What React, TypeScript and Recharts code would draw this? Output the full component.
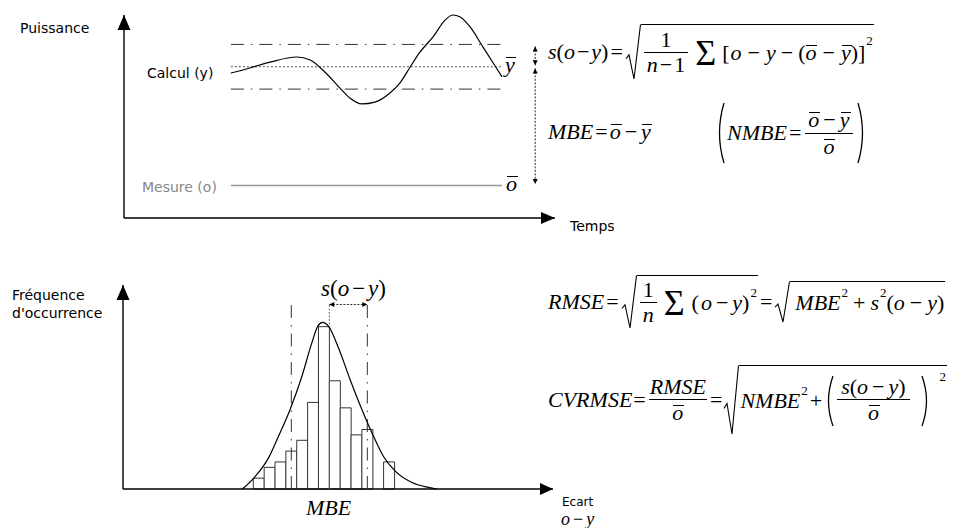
import React from "react";
import { ComposedChart, Line, Bar, XAxis, YAxis, ReferenceLine } from "recharts";

// top diagram: computed power (y) over time
const temps = [24.8, 29.2, 33.9, 40.1, 43.2, 46.6, 50.1, 52.4, 55.2, 58.2, 61.7, 64.0, 66.4, 68.7, 71.7, 74.5, 76.3, 78.0, 80.3, 83.3, 86.1, 87.7];
const calcul = [71.4, 73.9, 76.8, 79.3, 77.8, 71.9, 64.0, 59.1, 56.2, 57.1, 61.6, 66.5, 74.4, 81.8, 89.2, 97.5, 100, 99.0, 94.1, 84.2, 74.9, 69.5];
const yBar = 74.5;
const sTop = 11;
const oBar = 16;
const spanTemps = [24.8, 87.7];
const arrowTemps = 95.4;
const topMax = 100;

// bottom diagram: histogram of o - y
const bins = [12.5, 13.5, 14.5, 15.5, 16.5, 17.5, 18.5, 19.5, 20.5, 21.5, 22.5, 23.5, 24.5];
const freq = [2, 4, 5, 7, 9, 16, 30, 20, 15, 10, 11, 0, 5];
const curveEcart = [11.0, 12.17, 13.39, 14.31, 15.39, 16.47, 17.39, 17.94, 18.37, 18.92, 19.84, 20.92, 22.0, 22.92, 23.99, 25.07, 26.61, 28.14, 28.91];
const curveFreq = [0, 2.3, 5.7, 9.7, 14.7, 20.8, 27.0, 30.1, 30.8, 30.1, 26.1, 20.2, 14.7, 10.4, 6.0, 3.3, 1.2, 0.3, 0];
const mbe = 19;
const sBottom = 3.5;
const arrowFreq = 34.1;
const ecartMax = 39.6;
const freqMax = 37.7;

const topData = temps.map((t, i) => ({ t, calcul: calcul[i] }));
const histData = bins.map((ecart, i) => ({ ecart, freq: freq[i] }));
const curveData = curveEcart.map((ecart, i) => ({ ecart, density: curveFreq[i] }));

const sans = '"DejaVu Sans", Verdana, sans-serif';
const serif = '"Liberation Serif", "Times New Roman", serif';
const dashDot = "13 7 1.5 7";

function DoubleArrow(props: any) {
  const { x1, y1, x2, y2 } = props;
  const dx = x2 - x1;
  const dy = y2 - y1;
  const len = Math.hypot(dx, dy) || 1;
  const ux = dx / len;
  const uy = dy / len;
  const a = 5;
  const w = 2.5;
  const head = (x: number, y: number, vx: number, vy: number) =>
    `${x},${y} ${x - vx * a - vy * w},${y - vy * a + vx * w} ${x - vx * a + vy * w},${y - vy * a - vx * w}`;
  return (
    <g>
      <line x1={x1} y1={y1} x2={x2} y2={y2} stroke="#222" strokeDasharray="2 1.5" />
      <polygon points={head(x2, y2, ux, uy)} fill="#000" />
      <polygon points={head(x1, y1, -ux, -uy)} fill="#000" />
    </g>
  );
}

type Kids = { children?: React.ReactNode };
const I = ({ children }: Kids) => <span style={{ fontStyle: "italic" }}>{children}</span>;
const Ov = ({ children }: Kids) => (
  <span style={{ position: "relative", display: "inline-block", fontStyle: "italic", lineHeight: 1.15 }}>
    {children}
    <span style={{ position: "absolute", left: 1, right: -1, top: 5, borderTop: "1px solid #000" }} />
  </span>
);
const Op = ({ children, m = 2 }: Kids & { m?: number }) => <span style={{ margin: `0 ${m}px` }}>{children}</span>;
const Sup = ({ children, raise = 10 }: Kids & { raise?: number }) => (
  <span style={{ fontSize: 13, lineHeight: 1, position: "relative", top: -raise, marginLeft: 1 }}>{children}</span>
);
const Sigma = () => <span style={{ fontSize: 36, margin: "0 5px", lineHeight: 1 }}>Σ</span>;

function Frac({ num, den, pad = 3 }: { num: React.ReactNode; den: React.ReactNode; pad?: number }) {
  return (
    <span style={{ display: "inline-flex", flexDirection: "column", alignItems: "center", margin: "0 2px" }}>
      <span style={{ padding: `0 ${pad}px`, lineHeight: "24px" }}>{num}</span>
      <span style={{ alignSelf: "stretch", borderTop: "1px solid #000" }} />
      <span style={{ padding: `0 ${pad}px`, lineHeight: "24px" }}>{den}</span>
    </span>
  );
}

function Sqrt({ h, children }: { h: number; children: React.ReactNode }) {
  return (
    <span style={{ display: "inline-flex", alignItems: "stretch", height: h }}>
      <svg width={16} height={h} style={{ display: "block" }}>
        <path d={`M1 ${h * 0.62} L4 ${h * 0.55} L9 ${h - 1} L15.5 0.5`} fill="none" stroke="#000" strokeWidth={1.1} />
      </svg>
      <span style={{ display: "inline-flex", alignItems: "center", borderTop: "1px solid #000", padding: "0 1px", lineHeight: 1.15 }}>
        {children}
      </span>
    </span>
  );
}

function Paren({ h, right, m = 1 }: { h: number; right?: boolean; m?: number }) {
  const d = right ? `M2 1 Q11 ${h / 2} 2 ${h - 1}` : `M9 1 Q0 ${h / 2} 9 ${h - 1}`;
  return (
    <svg width={11} height={h} style={{ display: "block", margin: `0 ${m}px` }}>
      <path d={d} fill="none" stroke="#000" strokeWidth={1.3} />
    </svg>
  );
}

function Row({ left, cy, h, size = 22, children }: { left: number; cy: number; h: number; size?: number; children: React.ReactNode }) {
  return (
    <div
      style={{
        position: "absolute",
        left,
        top: cy - h / 2,
        height: h,
        display: "flex",
        alignItems: "center",
        fontFamily: serif,
        fontSize: size,
        lineHeight: `${h}px`,
        whiteSpace: "nowrap",
      }}
    >
      {children}
    </div>
  );
}

function Label({ left, cy, size = 14, color = "#000", children }: any) {
  const lh = size + 4;
  return (
    <div
      style={{
        position: "absolute",
        left,
        top: cy - lh / 2,
        lineHeight: `${lh}px`,
        fontFamily: sans,
        fontSize: size,
        color,
        whiteSpace: "nowrap",
      }}
    >
      {children}
    </div>
  );
}

const axisStroke = { stroke: "#000", strokeWidth: 1.4 };

export default function App() {
  return (
    <div style={{ position: "absolute", left: 0, top: 0, width: 953, height: 528, overflow: "hidden", background: "#fff" }}>
      <div style={{ position: "absolute", left: 0, top: 0 }}>
        <ComposedChart width={600} height={240} data={topData} margin={{ top: 15, left: 124, right: 45, bottom: 22 }}>
          <XAxis dataKey="t" type="number" domain={[0, topMax]} hide />
          <YAxis type="number" domain={[0, topMax]} hide />
          <ReferenceLine segment={[{ x: 0, y: 0 }, { x: topMax, y: 0 }]} {...axisStroke} />
          <ReferenceLine segment={[{ x: 0, y: 0 }, { x: 0, y: topMax }]} {...axisStroke} />
          <ReferenceLine segment={[{ x: spanTemps[0], y: yBar + sTop }, { x: spanTemps[1], y: yBar + sTop }]} stroke="#333" strokeDasharray={dashDot} />
          <ReferenceLine segment={[{ x: spanTemps[0], y: yBar - sTop }, { x: spanTemps[1], y: yBar - sTop }]} stroke="#333" strokeDasharray={dashDot} />
          <ReferenceLine segment={[{ x: spanTemps[0], y: yBar }, { x: spanTemps[1], y: yBar }]} stroke="#555" strokeDasharray="2 2" />
          <ReferenceLine segment={[{ x: spanTemps[0], y: oBar }, { x: spanTemps[1], y: oBar }]} stroke="#999" strokeWidth={1.4} />
          <ReferenceLine segment={[{ x: arrowTemps, y: yBar + sTop - 1 }, { x: arrowTemps, y: yBar + 0.8 }]} shape={DoubleArrow} />
          <ReferenceLine segment={[{ x: arrowTemps, y: yBar - 0.8 }, { x: arrowTemps, y: oBar + 0.8 }]} shape={DoubleArrow} />
          <Line dataKey="calcul" type="monotone" stroke="#000" strokeWidth={1.2} dot={false} activeDot={false} isAnimationActive={false} />
        </ComposedChart>
      </div>

      <div style={{ position: "absolute", left: 0, top: 260 }}>
        <ComposedChart width={600} height={260} data={histData} barCategoryGap={0} barGap={0} margin={{ top: 25, left: 123, right: 47, bottom: 31 }}>
          <XAxis xAxisId="bins" dataKey="ecart" type="number" domain={[0, ecartMax]} hide />
          <XAxis xAxisId="curve" dataKey="ecart" type="number" domain={[0, ecartMax]} hide />
          <YAxis type="number" domain={[0, freqMax]} hide />
          <Bar xAxisId="bins" dataKey="freq" fill="#fff" stroke="#333" strokeWidth={1} isAnimationActive={false} />
          <ReferenceLine xAxisId="bins" segment={[{ x: 0, y: 0 }, { x: ecartMax, y: 0 }]} {...axisStroke} />
          <ReferenceLine xAxisId="bins" segment={[{ x: 0, y: 0 }, { x: 0, y: freqMax }]} {...axisStroke} />
          <ReferenceLine xAxisId="bins" segment={[{ x: mbe - sBottom, y: 0 }, { x: mbe - sBottom, y: 34.8 }]} stroke="#333" strokeDasharray={dashDot} />
          <ReferenceLine xAxisId="bins" segment={[{ x: mbe + sBottom, y: 0 }, { x: mbe + sBottom, y: arrowFreq }]} stroke="#333" strokeDasharray={dashDot} />
          <ReferenceLine xAxisId="bins" segment={[{ x: mbe, y: 0 }, { x: mbe, y: arrowFreq }]} stroke="#666" strokeDasharray="2 1.5" />
          <ReferenceLine xAxisId="bins" segment={[{ x: mbe, y: arrowFreq }, { x: mbe + sBottom, y: arrowFreq }]} shape={DoubleArrow} />
          <Line xAxisId="curve" data={curveData} dataKey="density" type="monotone" stroke="#000" strokeWidth={1.2} dot={false} activeDot={false} isAnimationActive={false} />
        </ComposedChart>
      </div>

      <svg width={953} height={528} style={{ position: "absolute", left: 0, top: 0, pointerEvents: "none" }}>
        <polygon points="124,15 117.5,30 130.5,30" fill="#000" />
        <polygon points="555,218 541,212 541,224" fill="#000" />
        <polygon points="123,285 116.5,300 129.5,300" fill="#000" />
        <polygon points="553,489 540,483 540,495" fill="#000" />
      </svg>

      <Label left={20} cy={28}>Puissance</Label>
      <Label left={570} cy={226}>Temps</Label>
      <Label left={147} cy={73}>Calcul (y)</Label>
      <Label left={142} cy={187} color="#888">Mesure (o)</Label>
      <Label left={12} cy={295}>Fréquence</Label>
      <Label left={12} cy={313}>d'occurrence</Label>
      <Label left={562} cy={502} size={12}>Ecart</Label>

      <Row left={505} cy={65} h={24}><Ov>y</Ov></Row>
      <Row left={506} cy={184} h={24}><Ov>o</Ov></Row>
      <Row left={561} cy={519} h={18} size={18}><I>o</I><Op m={3}>−</Op><I>y</I></Row>
      <Row left={321} cy={289} h={26} size={23}><I>s</I>(<I>o</I><Op m={3}>−</Op><I>y</I>)</Row>
      <Row left={306} cy={508} h={26}><I>MBE</I></Row>

      <Row left={548} cy={52} h={60}>
        <I>s</I>(<I>o</I><Op>−</Op><I>y</I>)<Op>=</Op>
        <Sqrt h={56}>
          <Frac num="1" den={<><I>n</I><Op>−</Op>1</>} />
          <Sigma />
          <Op m={1}>[</Op><I>o</I><Op m={6}>−</Op><I>y</I><Op m={5}>−</Op>(<Ov>o</Ov><Op m={6}>−</Op><Ov>y</Ov>)]<Sup raise={12}>2</Sup>
        </Sqrt>
      </Row>

      <Row left={548} cy={132} h={30}>
        <I>MBE</I><Op>=</Op><Ov>o</Ov><Op m={4}>−</Op><Ov>y</Ov>
      </Row>
      <Row left={714} cy={133} h={64}>
        <Paren h={62} />
        <I>NMBE</I><Op>=</Op>
        <Frac num={<><Ov>o</Ov><Op m={4}>−</Op><Ov>y</Ov></>} den={<Ov>o</Ov>} />
        <Paren h={62} right />
      </Row>

      <Row left={548} cy={302} h={56}>
        <I>RMSE</I><Op>=</Op>
        <Sqrt h={54}>
          <Frac num="1" den={<I>n</I>} />
          <Sigma />
          <Op m={2}>(</Op><I>o</I><Op m={4}>−</Op><I>y</I>)<Sup>2</Sup>
        </Sqrt>
        <Op>=</Op>
        <Sqrt h={42}>
          <Op m={2}> </Op><I>MBE</I><Sup>2</Sup><Op m={5}>+</Op><I>s</I><Sup>2</Sup>(<I>o</I><Op m={5}>−</Op><I>y</I>)
        </Sqrt>
      </Row>

      <Row left={548} cy={400} h={74}>
        <I>CVRMSE</I><Op m={1}>=</Op>
        <Frac num={<I>RMSE</I>} den={<Ov>o</Ov>} pad={1} />
        <Op m={1}>=</Op>
        <Sqrt h={70}>
          <I>NMBE</I><Sup>2</Sup><Op m={2}>+</Op>
          <Paren h={52} m={0} />
          <Frac num={<><I>s</I>(<I>o</I><Op m={4}>−</Op><I>y</I>)</>} den={<Ov>o</Ov>} pad={4} />
          <Paren h={52} right m={8} />
          <Sup raise={24}>2</Sup>
        </Sqrt>
      </Row>
    </div>
  );
}
